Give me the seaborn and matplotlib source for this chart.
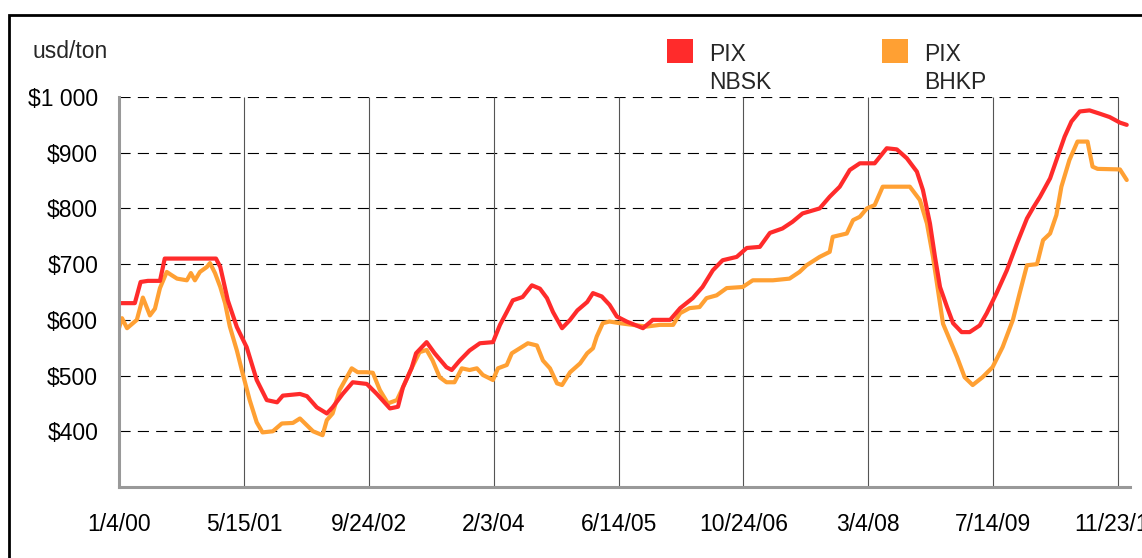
import pandas as pd
import matplotlib
matplotlib.use('Agg')
import matplotlib.pyplot as plt
import matplotlib.ticker as mticker
from matplotlib.patches import Rectangle
import seaborn as sns

# PIX NBSK (softwood) weekly price, usd/ton
nbsk_dates = [
    '2000-01-04', '2000-03-07', '2000-03-30', '2000-04-28', '2000-06-15', '2000-07-04',
    '2001-01-24', '2001-02-10', '2001-03-12', '2001-04-17', '2001-05-26', '2001-07-05',
    '2001-08-14', '2001-09-24', '2001-10-17', '2001-12-24', '2002-01-21', '2002-03-01',
    '2002-04-10', '2002-05-03', '2002-06-12', '2002-07-22', '2002-09-16', '2002-10-26',
    '2002-12-17', '2003-01-18', '2003-02-07', '2003-03-13', '2003-03-31', '2003-05-12',
    '2003-06-13', '2003-07-30', '2003-08-20', '2003-09-21', '2003-10-30', '2003-12-10',
    '2004-01-31', '2004-02-28', '2004-03-26', '2004-04-19', '2004-05-28', '2004-07-04',
    '2004-08-05', '2004-09-02', '2004-09-26', '2004-11-01', '2004-12-03', '2005-01-01',
    '2005-02-09', '2005-03-04', '2005-04-08', '2005-05-09', '2005-06-07', '2005-07-16',
    '2005-09-19', '2005-10-28', '2006-01-05', '2006-02-14', '2006-04-05', '2006-05-14',
    '2006-06-24', '2006-08-02', '2006-09-27', '2006-11-06', '2006-12-28', '2007-02-06',
    '2007-03-28', '2007-05-07', '2007-06-16', '2007-08-23', '2007-10-02', '2007-11-11',
    '2007-12-21', '2008-01-30', '2008-03-29', '2008-05-16', '2008-06-25', '2008-08-04',
    '2008-09-13', '2008-10-07', '2008-11-04', '2008-11-24', '2008-12-14', '2009-01-11',
    '2009-02-04', '2009-03-10', '2009-04-11', '2009-05-21', '2009-06-18', '2009-07-27',
    '2009-09-06', '2009-10-16', '2009-11-25', '2009-12-18', '2010-01-16', '2010-02-25',
    '2010-03-27', '2010-04-24', '2010-05-21', '2010-06-23', '2010-08-01', '2010-09-11',
    '2010-10-20', '2010-11-30', '2010-12-27',
]
nbsk_values = [
    630, 630, 668, 670, 670, 710,
    710, 695, 635, 587, 551, 492,
    456, 452, 464, 467, 463, 443,
    432, 443, 467, 488, 485, 467,
    441, 444, 479, 513, 540, 560,
    540, 515, 510, 527, 545, 558,
    560, 591, 614, 635, 641, 662,
    656, 639, 614, 585, 600, 617,
    632, 648, 642, 627, 606, 597,
    585, 600, 600, 621, 639, 659,
    689, 707, 713, 729, 731, 756,
    764, 776, 791, 800, 821, 839,
    869, 881, 881, 908, 906, 890,
    866, 833, 773, 713, 659, 623,
    594, 578, 578, 590, 612, 648,
    689, 737, 782, 800, 821, 854,
    893, 929, 956, 974, 976, 970,
    964, 954, 950,
]

# PIX BHKP (hardwood) weekly price, usd/ton
bhkp_dates = [
    '2000-01-04', '2000-01-16', '2000-02-05', '2000-03-15', '2000-04-08', '2000-05-06',
    '2000-05-26', '2000-06-15', '2000-07-12', '2000-08-01', '2000-08-22', '2000-09-30',
    '2000-10-16', '2000-11-01', '2000-11-21', '2000-12-19', '2000-12-31', '2001-01-20',
    '2001-02-10', '2001-03-01', '2001-03-20', '2001-04-17', '2001-05-10', '2001-06-07',
    '2001-07-05', '2001-07-28', '2001-09-07', '2001-10-13', '2001-11-26', '2001-12-24',
    '2002-02-14', '2002-03-24', '2002-04-10', '2002-05-03', '2002-05-31', '2002-07-18',
    '2002-08-11', '2002-09-16', '2002-10-10', '2002-11-07', '2002-12-09', '2003-01-14',
    '2003-02-07', '2003-03-13', '2003-04-14', '2003-05-12', '2003-06-05', '2003-07-03',
    '2003-07-30', '2003-08-31', '2003-09-29', '2003-10-30', '2003-11-28', '2003-12-22',
    '2004-01-31', '2004-02-20', '2004-03-26', '2004-04-15', '2004-05-17', '2004-06-18',
    '2004-07-24', '2004-08-17', '2004-09-14', '2004-10-12', '2004-11-01', '2004-12-03',
    '2005-01-12', '2005-02-09', '2005-03-04', '2005-03-19', '2005-04-12', '2005-05-09',
    '2005-06-19', '2005-08-09', '2005-10-04', '2005-11-25', '2006-01-17', '2006-02-14',
    '2006-03-23', '2006-05-02', '2006-05-30', '2006-07-09', '2006-08-18', '2006-10-21',
    '2006-11-30', '2007-02-18', '2007-04-25', '2007-06-04', '2007-07-02', '2007-08-23',
    '2007-10-02', '2007-10-14', '2007-12-09', '2008-01-03', '2008-01-30', '2008-02-27',
    '2008-03-29', '2008-04-30', '2008-08-16', '2008-09-25', '2008-10-23', '2008-11-16',
    '2008-12-06', '2008-12-26', '2009-01-23', '2009-02-20', '2009-03-22', '2009-04-23',
    '2009-06-01', '2009-07-11', '2009-08-20', '2009-09-30', '2009-10-27', '2009-11-25',
    '2010-01-04', '2010-01-28', '2010-02-25', '2010-03-22', '2010-04-11', '2010-05-13',
    '2010-06-14', '2010-07-24', '2010-08-13', '2010-09-02', '2010-11-30', '2010-12-27',
]
bhkp_values = [
    585, 603, 585, 600, 640, 608,
    620, 657, 686, 680, 674, 671,
    684, 671, 686, 695, 702, 684,
    659, 630, 588, 545, 504, 456,
    416, 398, 400, 414, 415, 423,
    400, 393, 420, 432, 474, 513,
    506, 506, 505, 474, 450, 456,
    479, 513, 542, 546, 527, 497,
    488, 488, 513, 510, 513, 501,
    492, 513, 519, 540, 549, 558,
    554, 527, 513, 486, 483, 506,
    522, 540, 549, 570, 594, 597,
    594, 591, 588, 591, 591, 612,
    621, 623, 639, 644, 657, 659,
    671, 671, 674, 686, 698, 713,
    722, 749, 755, 779, 785, 800,
    806, 839, 839, 815, 773, 713,
    653, 593, 563, 533, 497, 483,
    497, 515, 551, 600, 648, 698,
    700, 743, 755, 788, 839, 887,
    920, 920, 875, 871, 870, 851,
]

tick_dates = ['2000-01-04', '2001-05-15', '2002-09-24', '2004-02-03', '2005-06-14',
              '2006-10-24', '2008-03-04', '2009-07-14', '2010-11-23']
tick_labels = ['1/4/00', '5/15/01', '9/24/02', '2/3/04', '6/14/05',
               '10/24/06', '3/4/08', '7/14/09', '11/23/10']
y_ticks = [400, 500, 600, 700, 800, 900, 1000]
y_labels = ['$400', '$500', '$600', '$700', '$800', '$900', '$1 000']

nbsk = pd.DataFrame({'date': pd.to_datetime(nbsk_dates), 'price': nbsk_values})
bhkp = pd.DataFrame({'date': pd.to_datetime(bhkp_dates), 'price': bhkp_values})
ticks = pd.to_datetime(tick_dates)

RED = '#ff2b2b'
ORANGE = '#ffa033'
W, H = 1142, 558

sns.set_style('white')
plt.rcParams['font.family'] = ['Liberation Sans', 'DejaVu Sans']

fig = plt.figure(figsize=(W / 100, H / 100), dpi=100)
ax = fig.add_axes([119 / W, 1 - 487 / H, 1011 / W, 390 / H])

# grid: dashed horizontals up to the last tick, solid verticals
ax.hlines(y_ticks, ticks[0], ticks[-1], colors='black', lw=0.8,
          linestyles=(0, (10, 6.5)), zorder=1)
ax.vlines(ticks[1:], 300, 1000, colors='#555555', lw=0.8, zorder=1)

sns.lineplot(data=bhkp, x='date', y='price', color=ORANGE, lw=3, ax=ax, zorder=3)
sns.lineplot(data=nbsk, x='date', y='price', color=RED, lw=3, ax=ax, zorder=4)

ax.set_xlim(pd.Timestamp('2000-01-04'), pd.Timestamp('2011-01-09'))
ax.set_ylim(300, 1000)
ax.set_xticks(ticks)
ax.set_xticklabels(tick_labels)
ax.set_yticks(y_ticks)
ax.yaxis.set_major_formatter(mticker.FixedFormatter(y_labels))
ax.set_xlabel('')
ax.set_ylabel('')

for side in ['top', 'right']:
    ax.spines[side].set_visible(False)
for side in ['left', 'bottom']:
    ax.spines[side].set_color('#999999')
    ax.spines[side].set_linewidth(2.2)
ax.spines['left'].set_zorder(5)
ax.spines['bottom'].set_zorder(5)

ax.tick_params(axis='x', length=12, width=0.8, color='#bbbbbb', pad=7,
               labelsize=16.5, labelcolor='black')
ax.tick_params(axis='y', length=11, width=0.8, color='#aaaaaa', pad=4,
               labelsize=16.5, labelcolor='black')

fig.text(32 / W, 1 - 58 / H, 'usd/ton', fontsize=16.5, va='baseline', ha='left')

# legend: square swatches with two-line labels
for x0, color, label in [(667, RED, 'PIX\nNBSK'), (882, ORANGE, 'PIX\nBHKP')]:
    fig.patches.append(Rectangle((x0 / W, 1 - 63 / H), 26 / W, 24 / H,
                                 transform=fig.transFigure, color=color, lw=0))
    fig.text((x0 + 42) / W, 1 - 43 / H, label, fontsize=16.5, va='top',
             ha='left', linespacing=1.3)

# outer frame
fig.patches.append(Rectangle((9 / W, -0.05), 1.2, (H - 15) / H + 0.05,
                             transform=fig.transFigure, fill=False,
                             lw=2, ec='black'))

fig.savefig('out.png', dpi=100)
